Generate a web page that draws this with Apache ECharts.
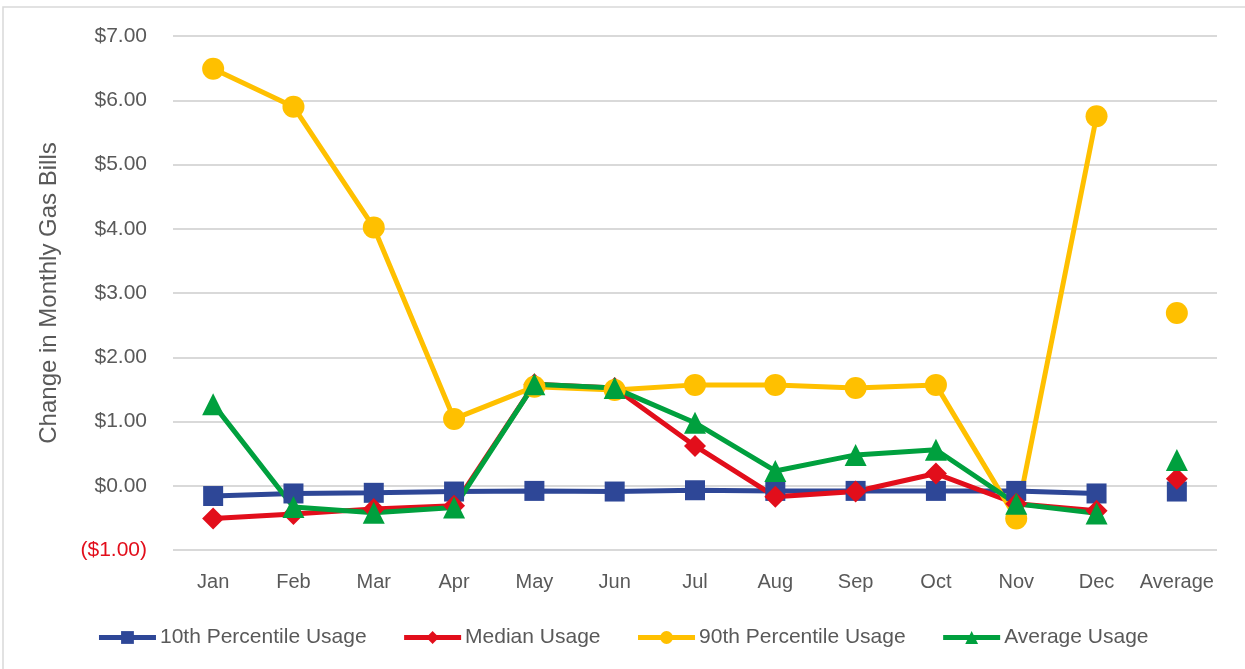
<!DOCTYPE html>
<html>
<head>
<meta charset="utf-8">
<script src="https://cdn.jsdelivr.net/npm/echarts@6/dist/echarts.min.js"></script>
<style>
  html, body { margin: 0; padding: 0; background: #fff; }
  #main { width: 1245px; height: 669px; }
</style>
</head>
<body>
<div id="main"></div>
<script>
const months = ['Jan', 'Feb', 'Mar', 'Apr', 'May', 'Jun', 'Jul', 'Aug', 'Sep', 'Oct', 'Nov', 'Dec', 'Average'];

// monthly values (Jan..Dec), then the average as a separate point
const p10 = [-0.16, -0.12, -0.11, -0.09, -0.08, -0.09, -0.07, -0.08, -0.08, -0.08, -0.08, -0.12];
const median = [-0.51, -0.44, -0.36, -0.31, 1.58, 1.52, 0.62, -0.17, -0.09, 0.19, -0.28, -0.39];
const p90 = [6.49, 5.90, 4.02, 1.04, 1.54, 1.49, 1.57, 1.57, 1.52, 1.57, -0.51, 5.75];
const avgUse = [1.27, -0.33, -0.42, -0.34, 1.58, 1.52, 0.98, 0.23, 0.48, 0.56, -0.28, -0.43];

const p10Avg = -0.09;
const medianAvg = 0.11;
const p90Avg = 2.69;
const avgUseAvg = 0.40;

const font = 'Liberation Sans';
const gray = '#595959';

const groups = [
  { name: '10th Percentile Usage', color: '#2E4797', symbol: 'rect', size: 20, data: p10, avg: p10Avg },
  { name: 'Median Usage', color: '#E20E1B', symbol: 'diamond', size: 22, data: median, avg: medianAvg },
  { name: '90th Percentile Usage', color: '#FFC000', symbol: 'circle', size: 22, data: p90, avg: p90Avg },
  { name: 'Average Usage', color: '#00A03E', symbol: 'triangle', size: 22, data: avgUse, avg: avgUseAvg }
];

const series = [];
groups.forEach(g => {
  series.push({
    name: g.name,
    type: 'line',
    data: g.data.concat([null]),
    symbol: g.symbol,
    symbolSize: g.size,
    itemStyle: { color: g.color },
    lineStyle: { color: g.color, width: 5 },
    animation: false
  });
  // the average is a lone marker, not joined to Dec
  const single = months.map((m, i) => (i === months.length - 1 ? g.avg : null));
  series.push({
    name: g.name,
    type: 'line',
    data: single,
    symbol: g.symbol,
    symbolSize: g.size,
    showAllSymbol: true,
    itemStyle: { color: g.color },
    lineStyle: { color: g.color, width: 5 },
    animation: false
  });
});

const chart = echarts.init(document.getElementById('main'));
chart.setOption({
  backgroundColor: '#fff',
  graphic: [{
    type: 'rect',
    shape: { x: 3, y: 7, width: 1260, height: 700 },
    style: { fill: 'none', stroke: '#d9d9d9', lineWidth: 1.5 },
    silent: true
  }],
  grid: { left: 173, right: 28, top: 36, bottom: 119 },
  legend: {
    top: 622,
    left: 'center',
    itemWidth: 57,
    itemHeight: 16,
    itemGap: 35,
    lineStyle: { width: 5 },
    textStyle: { fontFamily: font, fontSize: 21, color: gray, padding: [0, 0, 0, -1] },
    data: groups.map(g => g.name)
  },
  xAxis: {
    type: 'category',
    data: months,
    axisLine: { show: false },
    axisTick: { show: false },
    axisLabel: { interval: 0, fontFamily: font, fontSize: 20, color: gray, margin: 22 }
  },
  yAxis: {
    type: 'value',
    min: -1,
    max: 7,
    interval: 1,
    name: 'Change in Monthly Gas Bills',
    nameLocation: 'middle',
    nameGap: 112,
    nameTextStyle: { fontFamily: font, fontSize: 24, color: gray },
    axisLine: { show: false },
    axisTick: { show: false },
    splitLine: { lineStyle: { color: '#d9d9d9', width: 2 } },
    axisLabel: {
      margin: 26,
      fontFamily: font,
      fontSize: 21,
      color: gray,
      formatter: v => (v < 0 ? '{neg|($' + Math.abs(v).toFixed(2) + ')}' : '$' + v.toFixed(2)),
      rich: { neg: { color: '#E20E1B', fontFamily: font, fontSize: 21 } }
    }
  },
  series: series
});
</script>
</body>
</html>
